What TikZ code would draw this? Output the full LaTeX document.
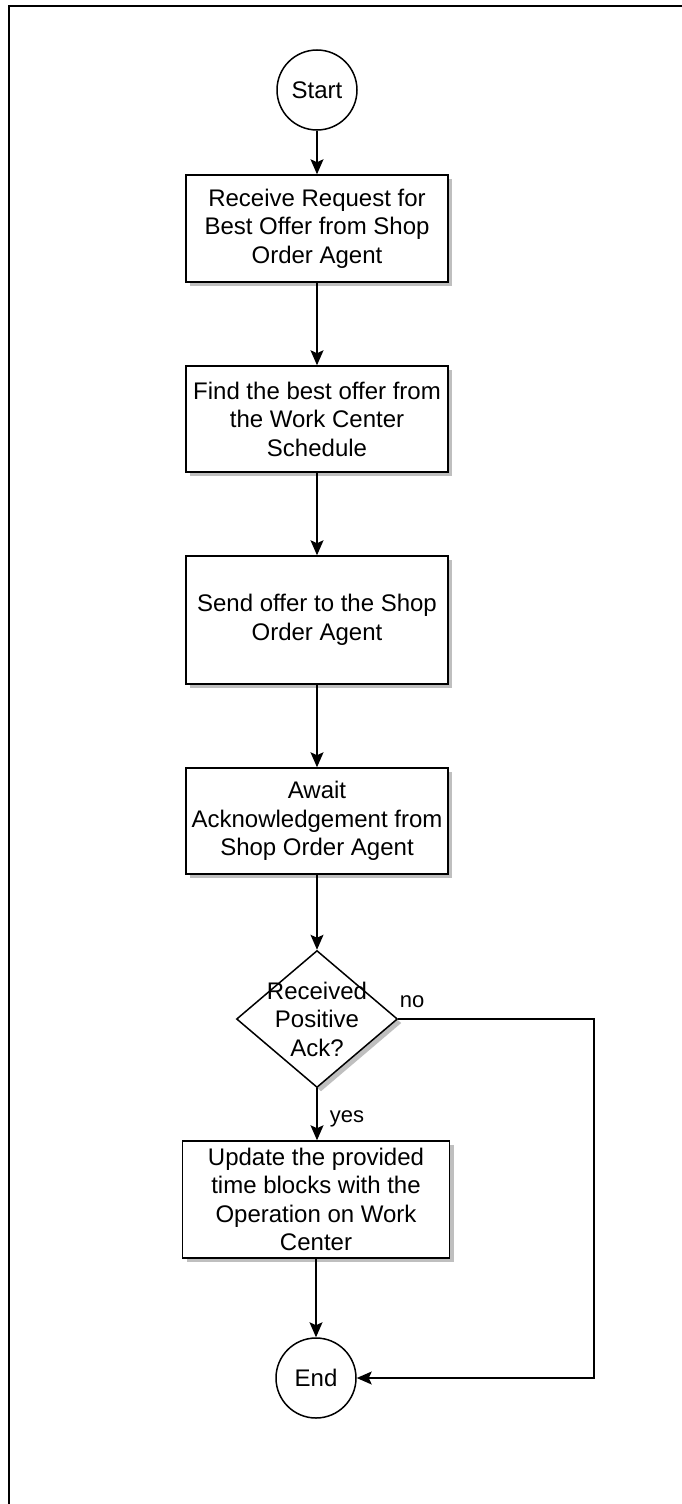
\documentclass[tikz,border=0pt]{standalone}
\usepackage{fontspec}
\setmainfont{Liberation Sans}
\usetikzlibrary{shapes.geometric,arrows.meta,shadows}

\tikzset{
  shapebase/.style={draw=black, line width=1.5pt, fill=white, text=black,
    font=\fontsize{24}{28.5}\selectfont, align=center, inner sep=0pt},
  boxshadow/.style={drop shadow={shadow xshift=4pt, shadow yshift=-4pt,
    fill=black!25, opacity=1}},
  procbox/.style={shapebase, rectangle, boxshadow, minimum width=262pt},
  termnode/.style={shapebase, circle, minimum size=80pt},
  decision/.style={shapebase, diamond, boxshadow, minimum width=161pt,
    minimum height=137pt},
  plaintext/.style={inner sep=0pt, align=center, text=black,
    font=\fontsize{24}{28.5}\selectfont},
  edgelabel/.style={inner sep=0pt, text=black, font=\fontsize{22}{26}\selectfont},
  flow/.style={draw=black, line width=1.4pt,
    -{Stealth[length=15pt, width=13pt, inset=3pt]}},
  frameline/.style={draw=black, line width=2pt}
}

\begin{document}
\begin{tikzpicture}[x=1pt, y=-1pt]
  % page area
  \useasboundingbox (0,0) rectangle (682,1504);
  \fill[white] (0,0) rectangle (682,1504);
  % frame edges along the top and the left
  \draw[frameline] (9,1504) -- (9,6) -- (682,6);

  % nodes
  \node[termnode] (start) at (317,90) {Start};
  \node[procbox, minimum height=107pt] (recv) at (317,228.5)
    {Receive Request for\\Best Offer from Shop\\Order Agent};
  \node[procbox, minimum height=106pt] (find) at (317,419)
    {Find the best offer from\\the Work Center\\Schedule};
  \node[procbox, minimum height=128pt] (send) at (317,620)
    {Send offer to the Shop\\Order Agent};
  \node[procbox, minimum height=106pt] (await) at (317,821)
    {Await\\Acknowledgement from\\Shop Order Agent};
  \node[decision] (ack) at (317,1019) {};
  \node[plaintext] (acktext) at (317,1019) {Received\\Positive\\Ack?};
  \node[procbox, minimum width=267pt, minimum height=117pt] (update) at (316,1199.5)
    {Update the provided\\time blocks with the\\Operation on Work\\Center};
  \node[termnode] (end) at (316,1378) {End};

  % connectors
  \draw[flow] (start.south) -- (recv.north);
  \draw[flow] (recv.south) -- (find.north);
  \draw[flow] (find.south) -- (send.north);
  \draw[flow] (send.south) -- (await.north);
  \draw[flow] (await.south) -- (ack.north);
  \draw[flow] (ack.south) -- (ack.south |- update.north);
  \draw[flow] (update.south) -- (end.north);
  \coordinate (noturn) at (594,1019);
  \draw[flow] (ack.east) -- (noturn) |- (end.east);

  % branch labels
  \node[edgelabel] (nolabel) at (412,1002) {no};
  \node[edgelabel] (yeslabel) at (347,1119) {yes};
\end{tikzpicture}
\end{document}
